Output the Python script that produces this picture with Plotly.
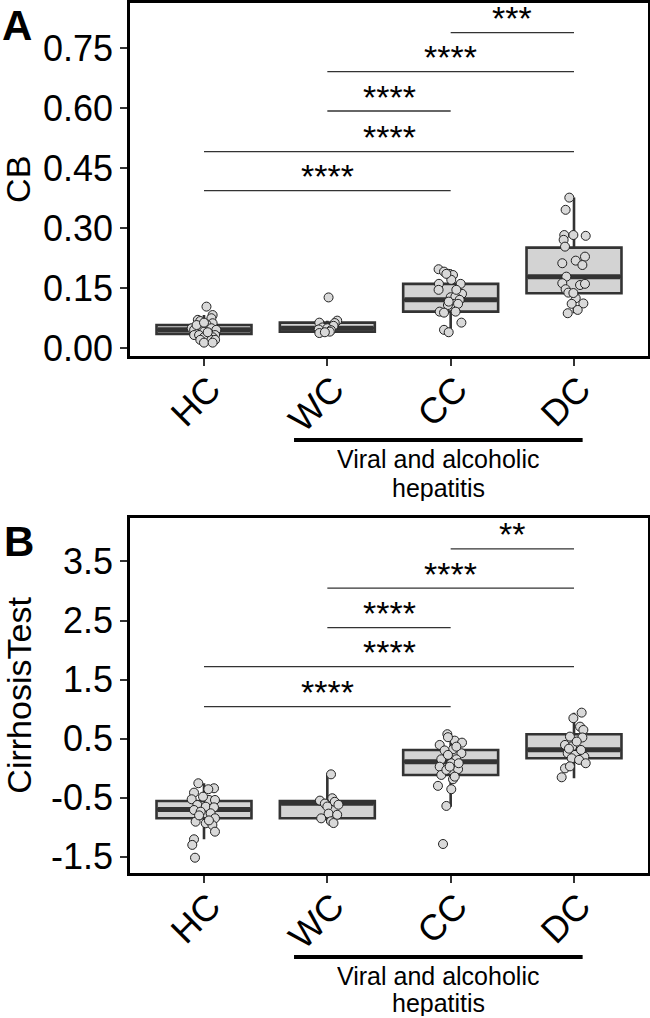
import plotly.graph_objects as go

# ---------------- data ----------------
groups = ["HC", "WC", "CC", "DC"]
positions = [1, 2, 3, 4]

# Panel A: CB box statistics
cb_q1 = [0.036, 0.0415, 0.0915, 0.1375]
cb_median = [0.046, 0.050, 0.121, 0.179]
cb_q3 = [0.058, 0.064, 0.161, 0.2515]
cb_lower = [0.014, 0.038, 0.040, 0.0875]
cb_upper = [0.083, 0.069, 0.1975, 0.3765]

# Panel A jittered points (value, horizontal jitter offset)
cb_hc_y = [0.104, 0.083, 0.075, 0.071, 0.068, 0.0625, 0.060, 0.054, 0.050, 0.050, 0.046, 0.046, 0.0415, 0.0375,
           0.033, 0.033, 0.033, 0.0275, 0.0275, 0.021, 0.021, 0.021, 0.014, 0.014, 0.058, 0.064, 0.040]
cb_hc_dx = [0.02, 0.07, 0.06, -0.05, -0.03, 0.07, 0.02, -0.03, -0.10, 0.06, -0.08, 0.10, 0.00, 0.04,
            -0.08, -0.04, 0.09, 0.00, 0.07, -0.03, 0.06, 0.09, 0.00, 0.07, -0.06, 0.00, 0.03]
cb_wc_y = [0.127, 0.069, 0.064, 0.063, 0.056, 0.052, 0.050, 0.047, 0.045, 0.0415, 0.038, 0.040]
cb_wc_dx = [0.01, 0.08, -0.065, 0.06, 0.05, -0.04, 0.00, -0.07, 0.03, 0.02, -0.065, -0.02]
cb_cc_y = [0.1975, 0.1915, 0.186, 0.183, 0.171, 0.161, 0.161, 0.146, 0.136, 0.1275, 0.129, 0.121, 0.111,
           0.108, 0.111, 0.0915, 0.089, 0.0915, 0.064, 0.046, 0.040, 0.1165, 0.186, 0.146]
cb_cc_dx = [-0.098, -0.054, -0.016, 0.019, 0.005, -0.095, 0.081, -0.098, 0.092, 0.0, 0.038, 0.073, 0.019,
            -0.022, 0.06, -0.089, -0.054, 0.04, 0.087, -0.054, -0.016, -0.016, -0.035, 0.046]
cb_dc_y = [0.3765, 0.346, 0.283, 0.283, 0.281, 0.271, 0.254, 0.229, 0.219, 0.2125, 0.208, 0.179, 0.1625,
           0.158, 0.161, 0.1475, 0.139, 0.125, 0.111, 0.112, 0.0875, 0.0958, 0.138]
cb_dc_dx = [-0.038, -0.068, -0.079, -0.005, 0.095, -0.084, -0.073, 0.089, 0.014, -0.095, 0.068, -0.062, -0.095,
            0.049, 0.089, -0.068, -0.046, 0.014, -0.019, 0.076, -0.051, 0.03, -0.005]

# Panel B: CirrhosisTest box statistics
ct_q1 = [-0.849, -0.849, -0.115, 0.168]
ct_median = [-0.700, -0.595, 0.110, 0.310]
ct_q3 = [-0.556, -0.556, 0.307, 0.575]
ct_lower = [-1.205, -0.930, -0.653, -0.172]
ct_upper = [-0.256, -0.105, 0.575, 0.940]

ct_hc_y = [-0.256, -0.415, -0.341, -0.357, -0.527, -0.539, -0.539, -0.624, -0.653, -0.664, -0.709, -0.737,
           -0.765, -0.849, -0.907, -0.934, -0.963, -1.076, -1.205, -1.300, -1.517, -0.483, -0.885, -0.800]
ct_hc_dx = [-0.046, -0.081, 0.081, 0.035, -0.100, 0.041, 0.089, -0.054, 0.014, 0.081, -0.081, -0.027,
            0.054, 0.089, -0.068, 0.014, 0.068, 0.089, -0.081, -0.095, -0.073, -0.008, 0.040, -0.040]
ct_wc_y = [-0.105, -0.51, -0.55, -0.57, -0.60, -0.62, -0.65, -0.77, -0.79, -0.85, -0.90, -0.93]
ct_wc_dx = [0.03, 0.04, -0.06, 0.06, -0.02, 0.09, 0.00, 0.01, 0.08, -0.05, 0.03, 0.05]
ct_cc_y = [0.575, 0.393, 0.466, 0.432, 0.320, 0.300, 0.252, 0.150, 0.150, 0.083, 0.025, -0.018, -0.115,
           -0.188, -0.300, -0.357, -0.640, -1.285, 0.524, 0.364, 0.224, 0.083, -0.030, -0.144, 0.025]
ct_cc_dx = [-0.027, -0.089, 0.033, 0.092, 0.019, -0.049, 0.087, 0.046, -0.076, 0.005, -0.089, 0.060, -0.076,
            0.019, -0.103, 0.005, -0.035, -0.062, -0.022, 0.046, -0.022, 0.065, -0.035, 0.033, -0.008]
ct_dc_y = [0.940, 0.846, 0.703, 0.647, 0.534, 0.520, 0.393, 0.370, 0.252, 0.224, 0.195, 0.168, 0.140,
           0.083, -0.004, 0.030, -0.155, 0.450, 0.308, 0.330]
ct_dc_dx = [0.062, -0.005, 0.049, 0.076, -0.033, 0.068, -0.073, -0.014, -0.051, 0.008, 0.084, -0.019, 0.041,
            0.095, -0.073, -0.033, -0.100, 0.022, 0.057, -0.041]

# significance comparisons (group index pairs)
comp_from = [1, 1, 2, 2, 3]
comp_to = [3, 4, 3, 4, 4]
cb_comp_y = [0.394, 0.4915, 0.593, 0.6915, 0.789]
cb_comp_lab = ["****", "****", "****", "****", "***"]
ct_comp_y = [1.042, 1.72, 2.381, 3.049, 3.715]
ct_comp_lab = ["****", "****", "****", "****", "**"]

cb_ticks = [0.00, 0.15, 0.30, 0.45, 0.60, 0.75]
cb_ticktext = ["0.00", "0.15", "0.30", "0.45", "0.60", "0.75"]
ct_ticks = [-1.5, -0.5, 0.5, 1.5, 2.5, 3.5]
ct_ticktext = ["-1.5", "-0.5", "0.5", "1.5", "2.5", "3.5"]

group_label_lines = ["Viral and alcoholic", "hepatitis"]

# ---------------- styling ----------------
FONT = "Liberation Sans, Arial, sans-serif"
BOX_LINE = "#333333"
BOX_FILL = "#d3d3d3"
PT_FILL = "#d9d9d9"
BOX_W = 0.77

fig = go.Figure()


def add_panel(xa, ya, q1, med, q3, lo, hi, pts, comp_y, comp_lab, text_off):
    for i, p in enumerate(positions):
        fig.add_trace(go.Box(
            x=[p], q1=[q1[i]], median=[med[i]], q3=[q3[i]],
            lowerfence=[lo[i]], upperfence=[hi[i]],
            boxpoints=False, width=BOX_W, whiskerwidth=0,
            fillcolor=BOX_FILL, line=dict(color=BOX_LINE, width=2.6),
            xaxis=xa, yaxis=ya, showlegend=False, hoverinfo="skip"))
    for i, p in enumerate(positions):
        fig.add_trace(go.Scatter(
            x=[p - BOX_W / 2 + 0.01, p + BOX_W / 2 - 0.01], y=[med[i], med[i]],
            mode="lines", line=dict(color=BOX_LINE, width=5),
            xaxis=xa, yaxis=ya, showlegend=False, hoverinfo="skip"))
    for i, (ys, dxs) in enumerate(pts):
        fig.add_trace(go.Scatter(
            x=[positions[i] + d for d in dxs], y=ys, mode="markers",
            marker=dict(size=9, color=PT_FILL, line=dict(color="#222222", width=1)),
            xaxis=xa, yaxis=ya, showlegend=False, hoverinfo="skip"))
    for a, b, yv, lab in zip(comp_from, comp_to, comp_y, comp_lab):
        fig.add_trace(go.Scatter(
            x=[a, b], y=[yv, yv], mode="lines",
            line=dict(color="#333333", width=1.3),
            xaxis=xa, yaxis=ya, showlegend=False, hoverinfo="skip"))
        fig.add_annotation(
            x=(a + b) / 2, y=yv + text_off, xref=xa, yref=ya, text=lab,
            showarrow=False, xanchor="center", yanchor="middle",
            font=dict(family=FONT, size=34, color="black"))


add_panel("x", "y", cb_q1, cb_median, cb_q3, cb_lower, cb_upper,
          [(cb_hc_y, cb_hc_dx), (cb_wc_y, cb_wc_dx), (cb_cc_y, cb_cc_dx), (cb_dc_y, cb_dc_dx)],
          cb_comp_y, cb_comp_lab, 0.036)
add_panel("x2", "y2", ct_q1, ct_median, ct_q3, ct_lower, ct_upper,
          [(ct_hc_y, ct_hc_dx), (ct_wc_y, ct_wc_dx), (ct_cc_y, ct_cc_dx), (ct_dc_y, ct_dc_dx)],
          ct_comp_y, ct_comp_lab, 0.245)

axis_common = dict(showline=True, mirror=True, linecolor="black", linewidth=2.5,
                   ticks="outside", ticklen=7, tickwidth=2, tickcolor="#333333",
                   showgrid=False, zeroline=False,
                   tickfont=dict(family=FONT, size=36, color="black"))
x_extra = dict(tickangle=-45, ticklabelstandoff=-12, ticklabelshift=6)

fig.update_layout(
    width=650, height=1018,
    margin=dict(l=130, r=2, t=3, b=145, autoexpand=False),
    paper_bgcolor="white", plot_bgcolor="white",
    xaxis=dict(domain=[0, 1], anchor="y", range=[0.4, 4.6], tickvals=positions, ticktext=groups,
               **x_extra, **axis_common),
    yaxis=dict(domain=[0.5943, 1], anchor="x", range=[-0.0193, 0.863], tickvals=cb_ticks,
               ticktext=cb_ticktext, **axis_common),
    xaxis2=dict(domain=[0, 1], anchor="y2", range=[0.4, 4.6], tickvals=positions, ticktext=groups,
                **x_extra, **axis_common),
    yaxis2=dict(domain=[0, 0.408], anchor="x2", range=[-1.776, 4.236], tickvals=ct_ticks,
                ticktext=ct_ticktext, **axis_common),
)

# group bar + label beneath each panel (paper y positions)
for xr, ybar, ytxt1, ytxt2 in [("x", 0.4977, 0.4759, 0.4425), ("x2", -0.0966, -0.1184, -0.1494)]:
    fig.add_shape(type="line", xref=xr, yref="paper", x0=1.73, x1=4.07, y0=ybar, y1=ybar,
                  line=dict(color="black", width=4))
    for txt, yy in zip(group_label_lines, [ytxt1, ytxt2]):
        fig.add_annotation(x=2.9, y=yy, xref=xr, yref="paper", text=txt, height=26,
                           showarrow=False, xanchor="center", yanchor="middle",
                           font=dict(family=FONT, size=25, color="black"))

# axis titles and panel letters
fig.add_annotation(x=-0.215, y=0.7974, xref="paper", yref="paper", text="CB", textangle=-90, height=30,
                   showarrow=False, xanchor="center", yanchor="middle",
                   font=dict(family=FONT, size=34, color="black"))
fig.add_annotation(x=-0.215, y=0.2046, xref="paper", yref="paper", text="CirrhosisTest", textangle=-90,
                   height=30, showarrow=False, xanchor="center", yanchor="middle",
                   font=dict(family=FONT, size=34, color="black"))
fig.add_annotation(x=-0.251, y=1.003, xref="paper", yref="paper", text="<b>A</b>",
                   showarrow=False, xanchor="left", yanchor="top",
                   font=dict(family=FONT, size=42, color="black"))
fig.add_annotation(x=-0.247, y=0.4103, xref="paper", yref="paper", text="<b>B</b>",
                   showarrow=False, xanchor="left", yanchor="top",
                   font=dict(family=FONT, size=42, color="black"))

fig.write_html("out.html", config={"displayModeBar": False},
               post_script="document.body.style.margin='0px';")
